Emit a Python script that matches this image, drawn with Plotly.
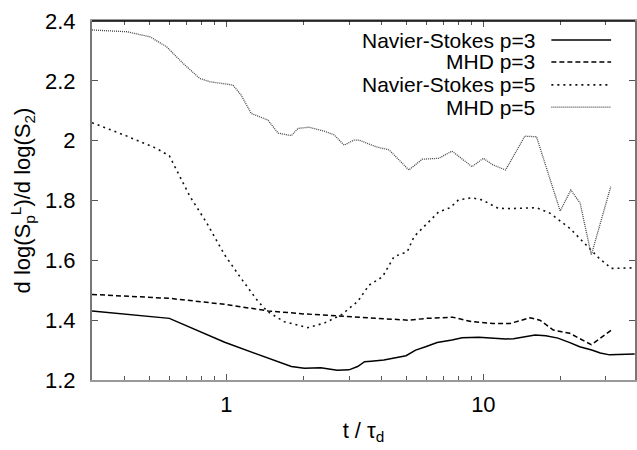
import plotly.graph_objects as go

# Navier-Stokes, p=3
t_ns3 = [0.30, 0.60, 0.985, 1.33, 1.79, 2.01, 2.33, 2.70, 3.00, 3.24, 3.45, 3.66, 4.10, 5.0, 5.45,
         5.96, 6.61, 7.55, 8.27, 9.6, 10.9, 12.2, 13.1, 15.9, 17.5, 19.5, 21.7, 23.7, 26.4, 28.5,
         31.0, 34.0, 38.8]
v_ns3 = [1.431, 1.406, 1.326, 1.284, 1.245, 1.239, 1.241, 1.233, 1.234, 1.245, 1.261, 1.263, 1.267,
         1.281, 1.300, 1.311, 1.325, 1.334, 1.341, 1.343, 1.339, 1.337, 1.338, 1.350, 1.348, 1.340,
         1.325, 1.311, 1.300, 1.290, 1.284, 1.286, 1.287]

# MHD, p=3
t_mhd3 = [0.30, 0.60, 0.985, 1.45, 2.0, 2.7, 3.44, 4.4, 5.1, 6.0, 7.6, 9.0, 10.9, 12.7, 15.2,
          16.6, 18.7, 20.2, 21.7, 26.3, 31.5]
v_mhd3 = [1.486, 1.473, 1.453, 1.431, 1.421, 1.414, 1.410, 1.405, 1.400, 1.406, 1.410, 1.395,
          1.389, 1.389, 1.408, 1.400, 1.367, 1.361, 1.356, 1.318, 1.367]

# Navier-Stokes, p=5
t_ns5 = [0.30, 0.40, 0.535, 0.60, 0.66, 0.72, 0.837, 0.985, 1.14, 1.33, 1.45, 1.68, 2.07, 2.40,
         2.79, 3.24, 3.59, 4.05, 4.49, 5.06, 5.37, 6.13, 6.70, 7.43, 8.0, 9.0, 9.9, 11.4, 12.7,
         16.1, 18.2, 21.7, 26.0, 28.2, 31.5, 38.8]
v_ns5 = [2.060, 2.019, 1.974, 1.949, 1.879, 1.815, 1.726, 1.618, 1.540, 1.462, 1.428, 1.395,
         1.375, 1.390, 1.417, 1.462, 1.517, 1.545, 1.612, 1.629, 1.679, 1.729, 1.762, 1.776,
         1.802, 1.809, 1.802, 1.774, 1.773, 1.776, 1.757, 1.707, 1.640, 1.607, 1.573, 1.575]

# MHD, p=5
t_mhd5 = [0.30, 0.41, 0.505, 0.585, 0.679, 0.788, 0.862, 1.01, 1.06, 1.14, 1.25, 1.45, 1.59,
          1.79, 1.90, 2.10, 2.40, 2.63, 2.87, 3.14, 3.28, 3.81, 4.30, 5.13, 5.78, 6.70, 7.55,
          9.03, 10.0, 10.9, 12.2, 14.5, 16.1, 19.9, 21.9, 23.8, 26.3, 31.3]
v_mhd5 = [2.370, 2.364, 2.347, 2.314, 2.258, 2.208, 2.197, 2.190, 2.186, 2.153, 2.091, 2.069,
          2.025, 2.017, 2.041, 2.045, 2.032, 2.019, 1.985, 2.002, 2.002, 1.980, 1.969, 1.902,
          1.938, 1.941, 1.965, 1.913, 1.941, 1.919, 1.902, 2.015, 2.013, 1.765, 1.835, 1.791,
          1.618, 1.846]

names = ["Navier-Stokes p=3", "MHD p=3", "Navier-Stokes p=5", "MHD p=5"]
series = [(t_ns3, v_ns3), (t_mhd3, v_mhd3), (t_ns5, v_ns5), (t_mhd5, v_mhd5)]
styles = [
    dict(color="#000000", width=1.5, dash="solid"),
    dict(color="#000000", width=1.5, dash="5px,3px"),
    dict(color="#111111", width=1.6, dash="2px,4px"),
    dict(color="#444444", width=1.3, dash="1px,1px"),
]

FONT = "Liberation Sans, Arial, Helvetica, sans-serif"
FS = 22
LEGEND_FS = 21

fig = go.Figure()
for name, (t, v), st in zip(names, series, styles):
    fig.add_trace(go.Scatter(x=t, y=v, mode="lines", name=name, line=st,
                             showlegend=False, hoverinfo="skip"))

# Legend: labels right-aligned, line samples to their right
legend_y = [0.947, 0.886, 0.822, 0.760]
for name, st, yy in zip(names, styles, legend_y):
    fig.add_annotation(x=0.820, y=yy, xref="paper", yref="paper", text=name,
                       showarrow=False, xanchor="right", yanchor="middle",
                       font=dict(family=FONT, size=LEGEND_FS, color="black"))
    fig.add_shape(type="line", xref="paper", yref="paper", x0=0.846, x1=0.956,
                  y0=yy, y1=yy, line=st)

# Black top frame line
fig.add_shape(type="line", xref="paper", yref="paper", x0=0, x1=1, y0=1, y1=1,
              line=dict(color="black", width=1.5))

minor_x = [0.4, 0.5, 0.6, 0.7, 0.8, 0.9, 2, 3, 4, 5, 6, 7, 8, 9, 20, 30]

fig.update_layout(
    width=637, height=450,
    margin=dict(l=92, r=0, t=21, b=70),
    paper_bgcolor="white", plot_bgcolor="white",
    font=dict(family=FONT, size=FS, color="black"),
    xaxis=dict(
        type="log", range=[-0.5229, 1.59],
        tickvals=[1, 10], ticktext=["1", "10"],
        ticks="inside", ticklen=6, tickcolor="#555555", tickwidth=1,
        minor=dict(tickvals=minor_x, ticks="inside", ticklen=4, tickcolor="#555555", showgrid=False),
        showline=True, linecolor="#999999", linewidth=2, mirror="ticks",
        showgrid=False, zeroline=False,
        ticklabelstandoff=4,
        title=dict(text="t / τ<sub>d</sub>", font=dict(size=FS), standoff=6),
    ),
    yaxis=dict(
        range=[1.2, 2.4], dtick=0.2, tick0=1.2,
        ticks="inside", ticklen=6, tickcolor="#555555", tickwidth=1,
        showline=True, linecolor="#777777", linewidth=2, mirror="ticks",
        showgrid=False, zeroline=False,
        ticklabelstandoff=10,
        title=dict(text="d log(S<sub>p</sub><sup>L</sup>)/d log(S<sub>2</sub>)",
                   font=dict(size=FS), standoff=8),
    ),
)

fig.write_html("out.html")
